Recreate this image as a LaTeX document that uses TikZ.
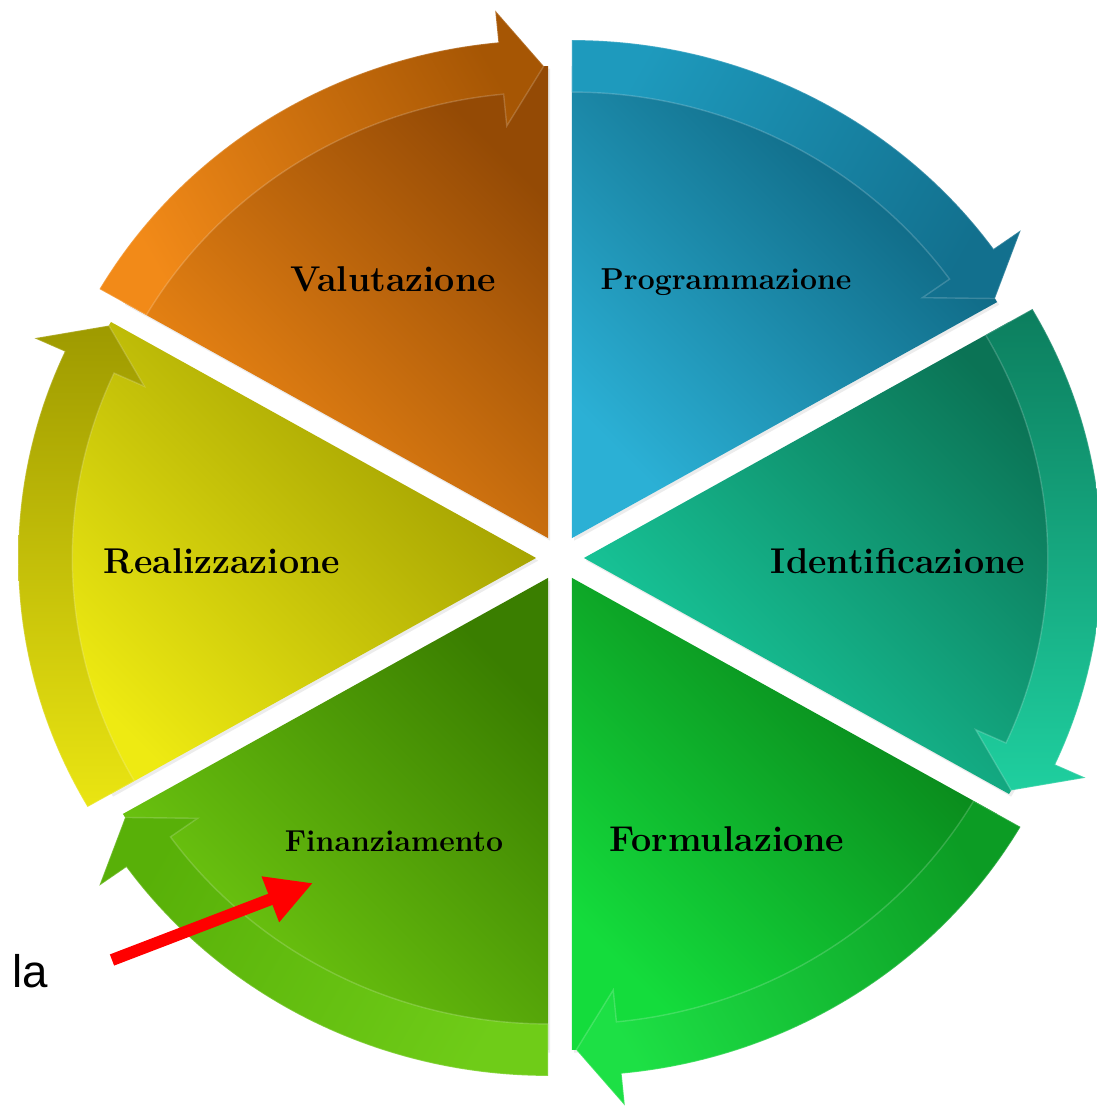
\documentclass[tikz,border=0pt]{standalone}
\usepackage{fontspec}
\usetikzlibrary{arrows.meta,shadows}
\newfontfamily\labelsans{Liberation Sans}

% segment colours: wedge dark/light, band start/head
\definecolor{blueD}{HTML}{0B5E78}\definecolor{blueL}{HTML}{2BB0D5}
\definecolor{blueS}{HTML}{1E9ABD}\definecolor{blueH}{HTML}{12708E}
\definecolor{tealD}{HTML}{0B7355}\definecolor{tealL}{HTML}{19CFA0}
\definecolor{tealS}{HTML}{0C7E5E}\definecolor{tealH}{HTML}{1FCF9F}
\definecolor{grnD}{HTML}{087A16}\definecolor{grnL}{HTML}{14DC3C}
\definecolor{grnS}{HTML}{0C9C24}\definecolor{grnH}{HTML}{1DE045}
\definecolor{lgrD}{HTML}{3A7E00}\definecolor{lgrL}{HTML}{72CE12}
\definecolor{lgrS}{HTML}{6FCC18}\definecolor{lgrH}{HTML}{58B008}
\definecolor{yelD}{HTML}{9C9A00}\definecolor{yelL}{HTML}{EEEA12}
\definecolor{yelS}{HTML}{EAE512}\definecolor{yelH}{HTML}{9E9A00}
\definecolor{orD}{HTML}{944A05}\definecolor{orL}{HTML}{F58C16}
\definecolor{orS}{HTML}{F28A18}\definecolor{orH}{HTML}{A65604}

\begin{document}
\begin{tikzpicture}[x=0.02cm,y=0.02cm,
  phase/.style={font=\bfseries\fontsize{20.4}{23}\selectfont\addfontfeature{LetterSpace=10},
    text=black, inner sep=0pt, anchor=base},
  phasesmall/.style={phase,
    font=\bfseries\fontsize{17.2}{20}\selectfont\addfontfeature{LetterSpace=8.5}},
  wedgeshadow/.style={drop shadow={shadow xshift=1.2pt, shadow yshift=-1.5pt, opacity=0.15}},
  bandedge/.style={draw=white, draw opacity=0.18, line width=0.8pt},
  pointer/.style={draw=red, line width=6.8pt, -{Triangle[length=26pt,width=26pt]}}]

\fill[white] (0,0) rectangle (1097,1114);
\useasboundingbox (0,0) rectangle (1097,1114);

% six exploded pie wedges, each with a clockwise arrow band on its rim
\begin{scope}[shift={(560,556)}, xscale=1.04]
\foreach \bis/\wdark/\wlight/\bstart/\bhead in {60/blueD/blueL/blueS/blueH,
                               0/tealD/tealL/tealS/tealH,
                               -60/grnD/grnL/grnS/grnH,
                               -120/lgrD/lgrL/lgrS/lgrH,
                               180/yelD/yelL/yelS/yelH,
                               120/orD/orL/orS/orH}{
  \pgfmathsetmacro\angS{\bis+30}
  \pgfmathsetmacro\angE{\bis-30}
  \pgfmathsetmacro\angH{\bis-24.5}
  \pgfmathsetmacro\angT{\bis-29.5}
  \begin{scope}[shift={(\bis:23)}]
    \shade[top color=\wdark, bottom color=\wlight, shading angle=-45, wedgeshadow]
      (0,0) -- plot[domain=\angE:\angS, samples=60] (\x:472) -- cycle;
    \shade[top color=\bstart, bottom color=\bhead, shading angle=\bis, bandedge]
      plot[domain=\angS:\angH, samples=60] (\x:498) -- (\angH:530) -- (\angT:472)
      -- (\angH:414) -- plot[domain=\angH:\angS, samples=60] (\x:446) -- cycle;
  \end{scope}
}
\end{scope}

% phase labels
\node[phase] (val) at (393,822) {Valutazione};
\node[phasesmall] (prog) at (726,824) {Programmazione};
\node[phase] (ident) at (898,540) {Identificazione};
\node[phase] (real) at (222,540) {Realizzazione};
\node[phase] (form) at (727,262) {Formulazione};
\node[phasesmall] (fin) at (394,262) {Finanziamento};

% side note with its pointer
\node[font=\labelsans\fontsize{26}{30}\selectfont, anchor=base west, inner sep=0pt] (la) at (12,126) {la};
\coordinate (redtail) at (112,154);
\coordinate (redtip) at (313,231);
\draw[pointer] (redtail) -- (redtip);
\end{tikzpicture}
\end{document}
